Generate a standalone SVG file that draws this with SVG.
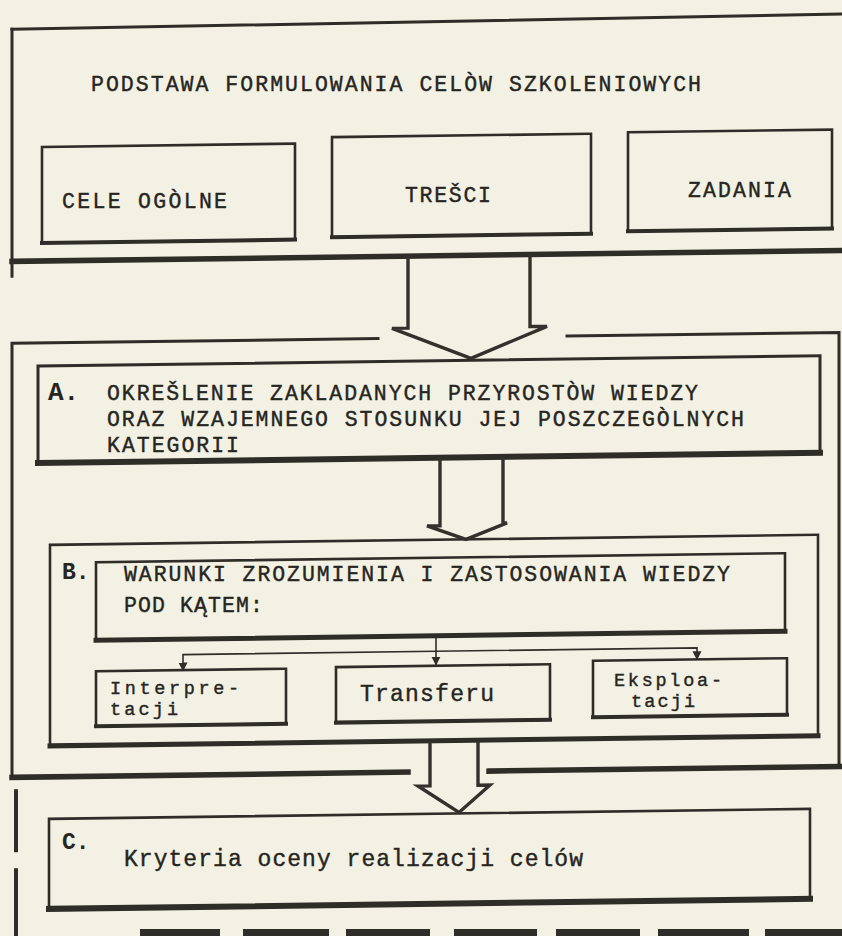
<svg xmlns="http://www.w3.org/2000/svg" width="842" height="936" viewBox="0 0 842 936">
<defs>
<style>
.ln{fill:none;stroke:#2f2d28;stroke-width:3;stroke-linecap:square}
.thk{fill:none;stroke:#2f2d28;stroke-width:5.5;stroke-linecap:square}
.box{fill:none;stroke:#2f2d28;stroke-width:2.6}
.arr{fill:none;stroke:#33312b;stroke-width:3.4;stroke-linejoin:miter}
.thin{fill:none;stroke:#2f2d28;stroke-width:1.6}
.cap{font-family:"Liberation Mono",monospace;font-size:21.5px;fill:#26251f;stroke:#26251f;stroke-width:0.4}
.low{font-family:"Liberation Mono",monospace;font-size:23px;fill:#26251f;stroke:#26251f;stroke-width:0.4}
.sm{font-family:"Liberation Mono",monospace;font-size:18.5px;fill:#26251f;stroke:#26251f;stroke-width:0.4}
.lbl{font-family:"Liberation Mono",monospace;font-size:23px;font-weight:bold;fill:#26251f}
</style>
<marker id="ah" viewBox="0 0 10 10" refX="9" refY="5" markerWidth="9" markerHeight="10" markerUnits="userSpaceOnUse" orient="auto">
<path d="M0 0 L10 5 L0 10 Z" fill="#2f2d28"/>
</marker>
</defs>
<rect x="0" y="0" width="842" height="936" fill="#f3f1e3"/>
<g transform="translate(0,5.5) skewY(-0.75)">
<g id="frame-podstawa">
<line class="ln" x1="12" y1="24" x2="850" y2="19.5"/>
<line class="ln" x1="12" y1="24" x2="12" y2="271"/>
<line class="thk" x1="12" y1="256" x2="850" y2="256"/>
</g>
<g id="node-cele">
<rect class="box" x="42" y="142" width="253" height="96"/>
<line class="thk" x1="42" y1="238" x2="295" y2="238" style="stroke-width:4"/>
</g>
<g id="node-tresci">
<rect class="box" x="332" y="136" width="259" height="100"/>
<line class="thk" x1="332" y1="236" x2="591" y2="236" style="stroke-width:4"/>
</g>
<g id="node-zadania">
<rect class="box" x="628" y="135" width="204" height="99"/>
<line class="thk" x1="628" y1="234" x2="832" y2="234" style="stroke-width:4"/>
</g>
<g id="frame-ab">
<polyline class="ln" points="378,338 12,338 12,772"/>
<polyline class="ln" points="567,338 839,338 839,772"/>
<line class="thk" x1="12" y1="772" x2="408" y2="772"/>
<line class="thk" x1="489" y1="772" x2="850" y2="772"/>
</g>
<g id="node-a">
<rect class="box" x="38" y="361" width="782" height="97" style="stroke-width:3"/>
<line class="thk" x1="38" y1="458" x2="820" y2="458" style="stroke-width:6"/>
</g>
<g id="node-b">
<rect class="box" x="50" y="540" width="768" height="201"/>
<line class="thk" x1="50" y1="741" x2="818" y2="741" style="stroke-width:5"/>
</g>
<g id="node-warunki">
<rect class="box" x="96" y="558" width="689" height="78"/>
<line class="thk" x1="96" y1="636" x2="785" y2="636" style="stroke-width:5"/>
</g>
<g id="node-interpretacji">
<rect class="box" x="96" y="667" width="190" height="55"/>
<line class="thk" x1="96" y1="722" x2="286" y2="722" style="stroke-width:4"/>
</g>
<g id="node-transferu">
<rect class="box" x="336" y="666" width="214" height="55.5"/>
<line class="thk" x1="336" y1="721.5" x2="550" y2="721.5" style="stroke-width:4"/>
</g>
<g id="node-eksploatacji">
<rect class="box" x="593" y="663" width="194" height="56.5"/>
<line class="thk" x1="593" y1="719.5" x2="787" y2="719.5" style="stroke-width:4"/>
</g>
<g id="node-c">
<rect class="box" x="49" y="814" width="761" height="90"/>
<line class="thk" x1="49" y1="904" x2="810" y2="904" style="stroke-width:6"/>
</g>
<g id="frame-c">
<line class="ln" x1="16" y1="786" x2="16" y2="845" style="stroke-width:4"/>
<line class="ln" x1="16" y1="865" x2="16" y2="945" style="stroke-width:4"/>
</g>
<g id="connectors">
<path class="arr" d="M408 256 V328 H392 L471 359 L547 328 H530 V256"/>
<path class="arr" d="M440 458 V526 H427 L466 540 L507 524 H503 V458"/>
<path class="arr" d="M430 741 V786 H418 L459 813 L490 786 H478 V741"/>
<path class="thin" d="M436 636 V665" marker-end="url(#ah)"/>
<path class="thin" d="M436 651.5 H183 V667.5" marker-end="url(#ah)"/>
<path class="thin" d="M436 651.5 H697 V663" marker-end="url(#ah)"/>
</g>
</g>
<g id="labels">
<text class="cap" x="91" y="91.3" textLength="610" lengthAdjust="spacing">PODSTAWA FORMULOWANIA CELÒW SZKOLENIOWYCH</text>
<text class="cap" x="62" y="208" textLength="165" lengthAdjust="spacing">CELE OGÒLNE</text>
<text class="cap" x="405" y="202" textLength="86" lengthAdjust="spacing">TREŠCI</text>
<text class="cap" x="688" y="197" textLength="103" lengthAdjust="spacing">ZADANIA</text>
<text class="lbl" x="48" y="400" style="font-size:26px">A.</text>
<text class="cap" x="107" y="399.5" textLength="591" lengthAdjust="spacing">OKREŠLENIE ZAKLADANYCH PRZYROSTÒW WIEDZY</text>
<text class="cap" x="107" y="426" textLength="637" lengthAdjust="spacing">ORAZ WZAJEMNEGO STOSUNKU JEJ POSZCZEGÒLNYCH</text>
<text class="cap" x="107" y="452" textLength="132" lengthAdjust="spacing">KATEGORII</text>
<text class="lbl" x="62" y="578.5">B.</text>
<text class="cap" x="124" y="580.5" textLength="606" lengthAdjust="spacing">WARUNKI ZROZUMIENIA I ZASTOSOWANIA WIEDZY</text>
<text class="cap" x="124" y="612" textLength="139" lengthAdjust="spacing">POD KĄTEM:</text>
<text class="sm" x="110" y="693.5" textLength="129" lengthAdjust="spacing">Interpre-</text>
<text class="sm" x="110" y="715" textLength="68" lengthAdjust="spacing">tacji</text>
<text class="low" x="360" y="701" textLength="134" lengthAdjust="spacing">Transferu</text>
<text class="sm" x="614" y="685.5" textLength="108" lengthAdjust="spacing">Eksploa-</text>
<text class="sm" x="631" y="707" textLength="64" lengthAdjust="spacing">tacji</text>
<text class="lbl" x="62" y="849">C.</text>
<text class="low" x="124" y="866" textLength="459" lengthAdjust="spacing">Kryteria oceny realizacji celów</text>
</g>
<g id="frame-c-bottom" fill="#2f2d28">
<rect x="140" y="929" width="80" height="8"/>
<rect x="243" y="929" width="86" height="8"/>
<rect x="346" y="929" width="84" height="8"/>
<rect x="454" y="929" width="83" height="8"/>
<rect x="556" y="929" width="84" height="8"/>
<rect x="658" y="929" width="91" height="8"/>
<rect x="765" y="929" width="80" height="8"/>
</g>
</svg>
